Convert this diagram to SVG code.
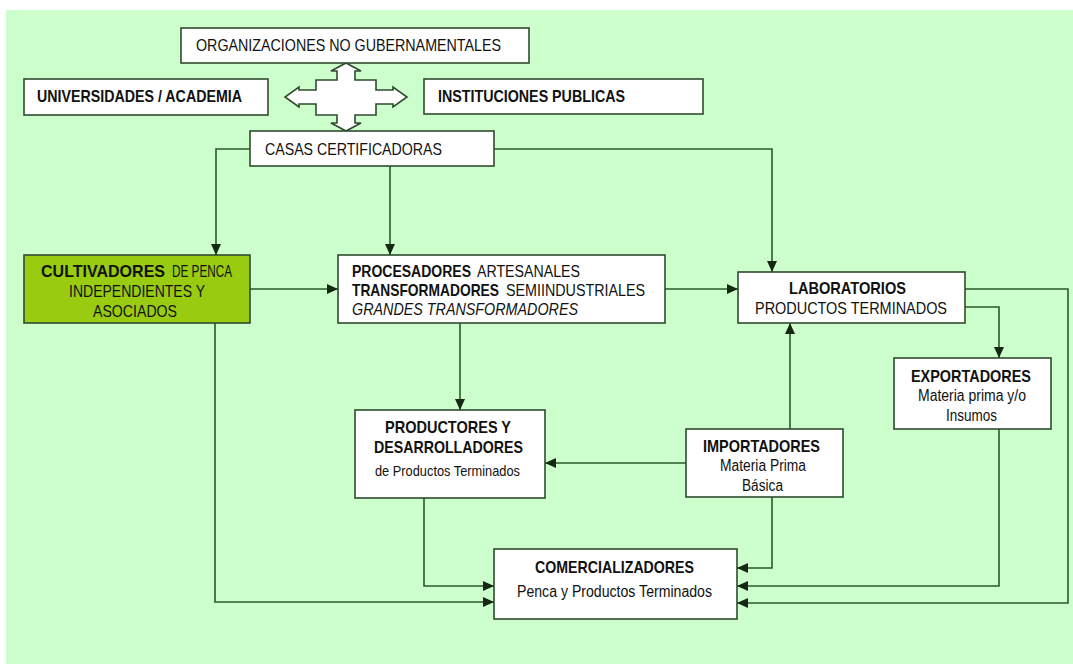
<svg xmlns="http://www.w3.org/2000/svg" width="1073" height="664" viewBox="0 0 1073 664">
<style>
.box{fill:#ffffff;stroke:#2f4a2f;stroke-width:1.6}
.t{font-family:"Liberation Sans",Arial,sans-serif;font-size:17px;fill:#111;}
.b{font-weight:bold}
.m{font-size:16px}
.s{font-size:15px}
.con path{fill:none;stroke:#2a5a2a;stroke-width:1.6}
</style>
<defs>
<marker id="ah" markerUnits="userSpaceOnUse" markerWidth="11" markerHeight="10" refX="11" refY="5" orient="auto">
<path d="M0,0 L11,5 L0,10 z" fill="#142814"/>
</marker>
</defs>
<rect x="0" y="0" width="1073" height="664" fill="#ffffff"/>
<rect x="6" y="10" width="1067" height="654" fill="#ccffcc"/>

<g id="cross">
<path d="M346,63 L361,71 L355,71 L355,80 L376,80 L376,90 L393,90 L393,87 L407,97 L393,107 L393,104 L376,104 L376,115 L355,115 L355,123 L361,123 L346,131 L331,123 L337,123 L337,115 L316,115 L316,104 L299,104 L299,107 L285,97 L299,87 L299,90 L316,90 L316,80 L337,80 L337,71 L331,71 Z" fill="#ffffff" stroke="#2f4a2f" stroke-width="1.6"/>
</g>

<g class="con" id="connectors">
<path d="M250,149 H216 V255" marker-end="url(#ah)"/>
<path d="M390,166 V255" marker-end="url(#ah)"/>
<path d="M494,149 H772 V272" marker-end="url(#ah)"/>
<path d="M250,289 H338" marker-end="url(#ah)"/>
<path d="M665,289 H738" marker-end="url(#ah)"/>
<path d="M965,289 H1068 V603 H737" marker-end="url(#ah)"/>
<path d="M965,307 H999 V358" marker-end="url(#ah)"/>
<path d="M999,429 V586 H737" marker-end="url(#ah)"/>
<path d="M790,429 V323" marker-end="url(#ah)"/>
<path d="M686,463 H545" marker-end="url(#ah)"/>
<path d="M772,497 V568 H737" marker-end="url(#ah)"/>
<path d="M460,323 V410" marker-end="url(#ah)"/>
<path d="M424,498 V586 H494" marker-end="url(#ah)"/>
<path d="M215,323 V602 H494" marker-end="url(#ah)"/>
</g>

<g id="org">
<rect class="box" x="181" y="28" width="348" height="35"/>
<text class="t" x="196" y="51" textLength="305" lengthAdjust="spacingAndGlyphs">ORGANIZACIONES NO GUBERNAMENTALES</text>
</g>
<g id="univ">
<rect class="box" x="24" y="79" width="244" height="36"/>
<text class="t b" x="37" y="102" textLength="205" lengthAdjust="spacingAndGlyphs">UNIVERSIDADES / ACADEMIA</text>
</g>
<g id="inst">
<rect class="box" x="424" y="79" width="279" height="35"/>
<text class="t b" x="438" y="102" textLength="187" lengthAdjust="spacingAndGlyphs">INSTITUCIONES PUBLICAS</text>
</g>
<g id="casas">
<rect class="box" x="250" y="131" width="244" height="35"/>
<text class="t" x="265" y="155" textLength="177" lengthAdjust="spacingAndGlyphs">CASAS CERTIFICADORAS</text>
</g>
<g id="cultivadores">
<rect class="box" x="24" y="255" width="226" height="68" style="fill:#99cc11"/>
<text class="t b" x="41" y="277" textLength="124" lengthAdjust="spacingAndGlyphs">CULTIVADORES</text>
<text class="t" x="172" y="277" textLength="60" lengthAdjust="spacingAndGlyphs">DE PENCA</text>
<text class="t" x="69" y="297" textLength="136" lengthAdjust="spacingAndGlyphs">INDEPENDIENTES Y</text>
<text class="t" x="93" y="317" textLength="84" lengthAdjust="spacingAndGlyphs">ASOCIADOS</text>
</g>
<g id="procesadores">
<rect class="box" x="338" y="255" width="327" height="68"/>
<text class="t m b" x="352" y="277" textLength="119" lengthAdjust="spacingAndGlyphs">PROCESADORES</text>
<text class="t m" x="477" y="277" textLength="103" lengthAdjust="spacingAndGlyphs">ARTESANALES</text>
<text class="t m b" transform="translate(352,296) scale(0.862,1)" x="0" y="0">TRANSFORMADORES</text>
<text class="t m" x="506" y="296" textLength="139" lengthAdjust="spacingAndGlyphs">SEMIINDUSTRIALES</text>
<text class="t m" x="352" y="315" font-style="italic" textLength="226" lengthAdjust="spacingAndGlyphs">GRANDES TRANSFORMADORES</text>
</g>
<g id="laboratorios">
<rect class="box" x="738" y="272" width="227" height="51"/>
<text class="t b" x="789" y="294" textLength="117" lengthAdjust="spacingAndGlyphs">LABORATORIOS</text>
<text class="t" x="755" y="314" textLength="192" lengthAdjust="spacingAndGlyphs">PRODUCTOS TERMINADOS</text>
</g>
<g id="productores">
<rect class="box" x="355" y="410" width="190" height="88"/>
<text class="t b" x="385" y="433" textLength="126" lengthAdjust="spacingAndGlyphs">PRODUCTORES Y</text>
<text class="t b" x="374" y="453" textLength="149" lengthAdjust="spacingAndGlyphs">DESARROLLADORES</text>
<text class="t s" x="375" y="476" textLength="145" lengthAdjust="spacingAndGlyphs">de Productos Terminados</text>
</g>
<g id="importadores">
<rect class="box" x="686" y="429" width="157" height="68"/>
<text class="t b" x="703" y="452" textLength="117" lengthAdjust="spacingAndGlyphs">IMPORTADORES</text>
<text class="t m" x="720" y="471" textLength="86" lengthAdjust="spacingAndGlyphs">Materia Prima</text>
<text class="t m" x="742" y="491" textLength="41" lengthAdjust="spacingAndGlyphs">Básica</text>
</g>
<g id="exportadores">
<rect class="box" x="894" y="358" width="157" height="71"/>
<text class="t b" x="911" y="382" textLength="120" lengthAdjust="spacingAndGlyphs">EXPORTADORES</text>
<text class="t m" x="918" y="401" textLength="108" lengthAdjust="spacingAndGlyphs">Materia prima y/o</text>
<text class="t m" x="946" y="421" textLength="51" lengthAdjust="spacingAndGlyphs">Insumos</text>
</g>
<g id="comercializadores">
<rect class="box" x="494" y="549" width="243" height="70"/>
<text class="t b" x="535" y="573" textLength="159" lengthAdjust="spacingAndGlyphs">COMERCIALIZADORES</text>
<text class="t m" x="517" y="597" textLength="195" lengthAdjust="spacingAndGlyphs">Penca y Productos Terminados</text>
</g>
</svg>
